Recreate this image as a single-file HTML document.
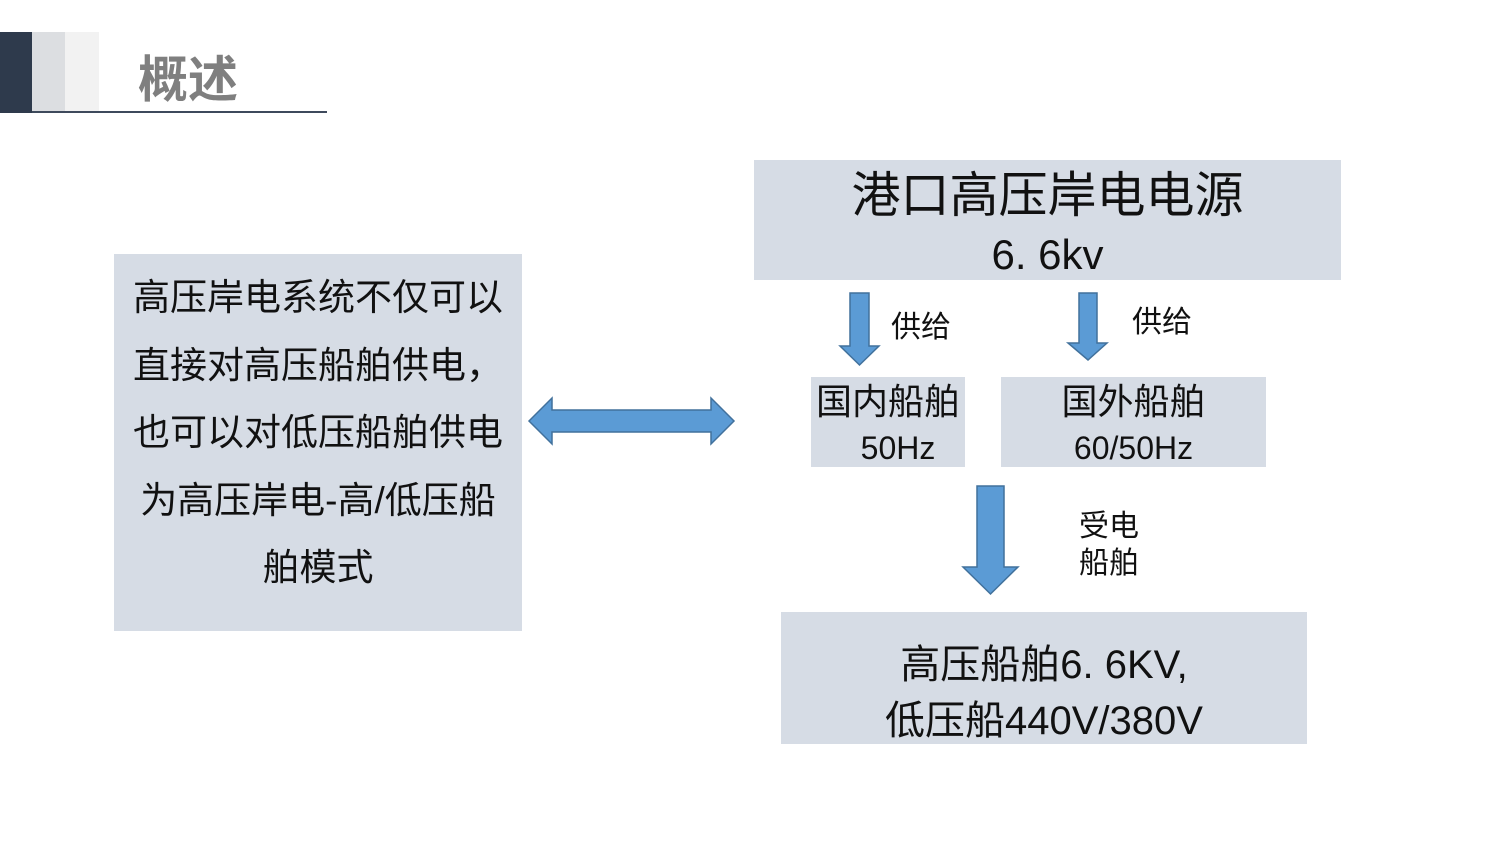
<!DOCTYPE html>
<html><head><meta charset="utf-8"><style>
body{margin:0;width:1500px;height:844px;background:#fff;position:relative;overflow:hidden;font-family:"Liberation Sans","Noto Sans CJK SC",sans-serif;color:#111}
.a{position:absolute}
.box{position:absolute;background:#d6dce5}
.t{position:absolute;white-space:nowrap;text-align:center;line-height:1}
</style></head><body>
<div class="a" style="left:0;top:32px;width:32px;height:81px;background:#2e3a4c"></div>
<div class="a" style="left:32px;top:32px;width:33px;height:80px;background:#dcdee1"></div>
<div class="a" style="left:65px;top:32px;width:34px;height:80px;background:#f2f2f2"></div>
<div class="a" style="left:32px;top:111px;width:295px;height:2px;background:#3e4a5c"></div>
<div class="t" style="left:138px;top:55px;font-size:50px;font-weight:bold;color:#7f7f7f">概述</div>

<div class="box" style="left:114px;top:254px;width:408px;height:377px"></div>
<div class="t" style="left:114px;width:408px;top:264px;font-size:37px;line-height:67.5px">高压岸电系统不仅可以<br>直接对高压船舶供电，<br>也可以对低压船舶供电<br>为高压岸电-高/低压船<br>舶模式</div>

<div class="box" style="left:754px;top:160px;width:587px;height:120px"></div>
<div class="t" style="left:754px;width:587px;top:172px;font-size:49px">港口高压岸电电源</div>
<div class="t" style="left:754px;width:587px;top:234px;font-size:42px">6. 6kv</div>

<div class="box" style="left:811px;top:377px;width:154px;height:90px"></div>
<div class="t" style="left:811px;width:154px;top:384px;font-size:36px">国内船舶</div>
<div class="t" style="left:821px;width:154px;top:432px;font-size:32px">50Hz</div>
<div class="box" style="left:1001px;top:377px;width:265px;height:90px"></div>
<div class="t" style="left:1001px;width:265px;top:384px;font-size:36px">国外船舶</div>
<div class="t" style="left:1001px;width:265px;top:432px;font-size:32px">60/50Hz</div>

<div class="t" style="left:891px;top:313px;font-size:30px">供给</div>
<div class="t" style="left:1132px;top:308px;font-size:30px">供给</div>
<div class="t" style="left:1079px;top:508px;font-size:30px;line-height:37px">受电<br>船舶</div>

<div class="box" style="left:781px;top:612px;width:526px;height:132px"></div>
<div class="t" style="left:781px;width:526px;top:645px;font-size:40px">高压船舶6. 6KV,</div>
<div class="t" style="left:781px;width:526px;top:701px;font-size:40px">低压船440V/380V</div>

<svg class="a" style="left:0;top:0" width="1500" height="844">
<g fill="#5b9bd5" stroke="#41719c" stroke-width="1.5">
<polygon points="529,421 552,398 552,410 711,410 711,398 734,421 711,444 711,432 552,432 552,444"/>
<polygon points="850,293 869,293 869,346 879,346 859.5,365 840,346 850,346"/>
<polygon points="1079,293 1097,293 1097,343 1107,343 1088,360 1068,343 1079,343"/>
<polygon points="977,486 1004,486 1004,567 1018,567 990.5,594 963,567 977,567"/>
</g></svg>
</body></html>
